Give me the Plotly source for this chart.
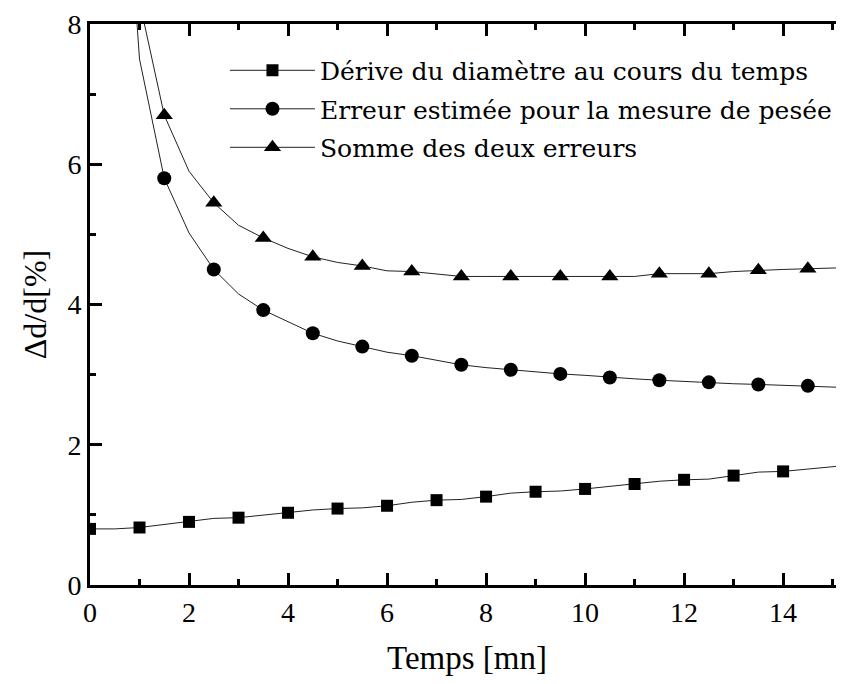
import plotly.graph_objects as go

# Time samples of the drawn curves (every 0.5 mn)
t_line = [0, 0.5, 1, 1.5, 2, 2.5, 3, 3.5, 4, 4.5, 5, 5.5, 6, 6.5, 7, 7.5,
          8, 8.5, 9, 9.5, 10, 10.5, 11, 11.5, 12, 12.5, 13, 13.5, 14, 14.5, 15, 15.5]

derive = [0.80, 0.80, 0.82, 0.86, 0.90, 0.95, 0.96, 1.00, 1.03, 1.07, 1.09, 1.10,
          1.13, 1.18, 1.21, 1.22, 1.26, 1.31, 1.33, 1.34, 1.37, 1.41, 1.44, 1.48,
          1.50, 1.51, 1.56, 1.61, 1.62, 1.65, 1.69, 1.72]

t_err = t_line[1:]
erreur = [12.5, 7.50, 5.80, 5.02, 4.50, 4.15, 3.92, 3.75, 3.59, 3.48, 3.40, 3.32,
          3.27, 3.20, 3.14, 3.10, 3.07, 3.03, 3.01, 2.99, 2.96, 2.94, 2.92, 2.90,
          2.89, 2.87, 2.86, 2.85, 2.84, 2.82, 2.81]

somme = [13.3, 8.32, 6.70, 5.90, 5.45, 5.13, 4.95, 4.80, 4.68, 4.60, 4.55, 4.48,
         4.47, 4.43, 4.40, 4.40, 4.40, 4.40, 4.40, 4.40, 4.40, 4.40, 4.44, 4.44,
         4.44, 4.47, 4.49, 4.50, 4.51, 4.52, 4.53]

# Marker positions (subset of the curve samples)
t_sq = t_line[0:29:2]          # 0,1,...,14
y_sq = derive[0:29:2]
t_ci = t_err[2:29:2]           # 1.5,2.5,...,14.5
y_ci = erreur[2:29:2]
y_tr = somme[2:29:2]

names = ["Dérive du diamètre au cours du temps",
         "Erreur estimée pour la mesure de pesée",
         "Somme des deux erreurs"]

LINE = dict(color="#222222", width=1)
FONT = "'Liberation Serif', serif"
LFONT = "'DejaVu Serif', serif"

fig = go.Figure()

series = [
    (t_line, derive, t_sq, y_sq, "square", 12, names[0]),
    (t_err, erreur, t_ci, y_ci, "circle", 14, names[1]),
    (t_err, somme, t_ci, y_tr, "triangle-up", 15, names[2]),
]

for i, (xl, yl, xm, ym, sym, sz, nm) in enumerate(series):
    fig.add_trace(go.Scatter(x=xl, y=yl, mode="lines", line=LINE,
                             showlegend=False, hoverinfo="skip"))
    fig.add_trace(go.Scatter(x=xm, y=ym, mode="markers",
                             marker=dict(symbol=sym, size=sz, color="black"),
                             showlegend=False, name=nm))
    # legend entry
    fig.add_trace(go.Scatter(x=[None], y=[None], mode="lines+markers",
                             line=LINE, legendgroup=f"g{i}",
                             marker=dict(symbol=sym, size=sz, color="black"),
                             name=nm, showlegend=True))

axis_common = dict(
    showline=True, linecolor="black", linewidth=3,
    ticks="inside", ticklen=12, tickwidth=2.5, tickcolor="black",
    showgrid=False, zeroline=False, automargin=False,
    tickfont=dict(family=FONT, size=28, color="black"),
)

fig.update_xaxes(
    range=[0, 15.23], dtick=2, tick0=0, mirror="allticks",
    minor=dict(dtick=1, ticks="inside", ticklen=6, tickwidth=2.5, tickcolor="black"),
    title=dict(text="Temps [mn]", font=dict(family=FONT, size=33, color="black"), standoff=20),
    **axis_common)
fig.update_yaxes(
    range=[0, 8], dtick=2, tick0=0,
    minor=dict(dtick=1, ticks="inside", ticklen=6, tickwidth=2.5, tickcolor="black"),
    title=dict(text="Δd/d[%]", font=dict(family=FONT, size=32, color="black"), standoff=12),
    **axis_common)

fig.update_layout(
    width=836, height=676,
    margin=dict(l=82, r=0, t=16, b=99),
    font=dict(family=FONT),
    plot_bgcolor="white", paper_bgcolor="white",
    legend=dict(x=0.179, y=0.958, xanchor="left", yanchor="top",
                font=dict(family=LFONT, size=25, color="black"),
                bgcolor="rgba(0,0,0,0)", tracegroupgap=3, traceorder="grouped",
                itemwidth=85),
    showlegend=True,
)

fig.write_html("out.html")
